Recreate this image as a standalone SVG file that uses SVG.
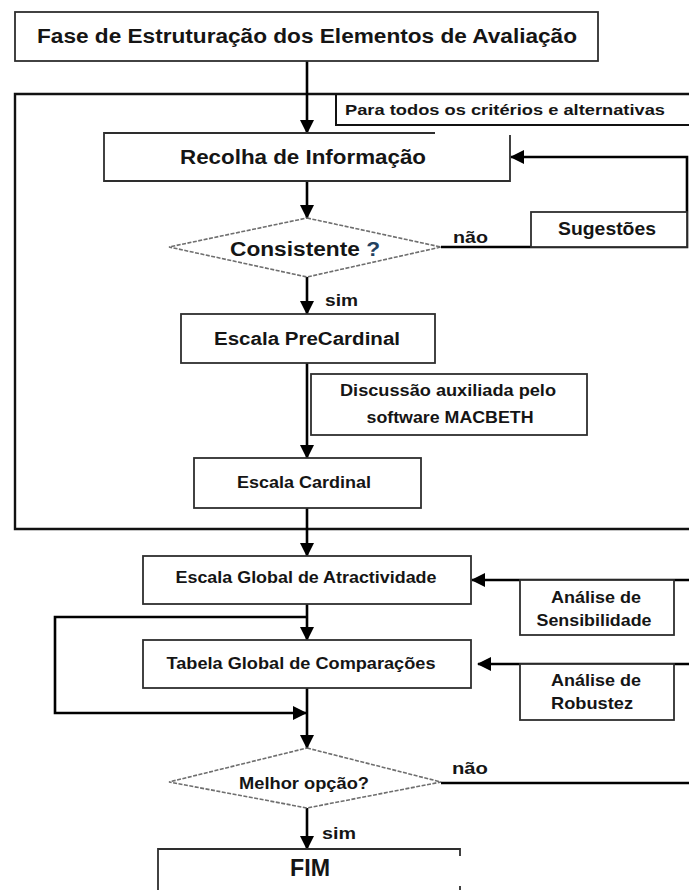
<svg xmlns="http://www.w3.org/2000/svg" width="689" height="890" viewBox="0 0 689 890">
  <defs>
    <marker id="arrow" markerUnits="userSpaceOnUse" markerWidth="14" markerHeight="15" refX="13" refY="7" orient="auto">
      <path d="M0,0 L14,7 L0,14 z" fill="#000"/>
    </marker>
    <style>
      .box { fill: #fff; stroke: #2e2e2e; stroke-width: 1.8; }
      .open { fill: none; stroke: #2e2e2e; stroke-width: 1.8; }
      .dia { fill: #fff; stroke: #6e6e6e; stroke-width: 1.6; stroke-dasharray: 4 1.5; }
      .frame { fill: none; stroke: #111; stroke-width: 2.4; }
      .wire { fill: none; stroke: #000; stroke-width: 2.6; }
      .t { font-family: "Liberation Sans", Arial, sans-serif; font-weight: bold; fill: #151515; text-anchor: middle; }
      .s { text-anchor: start; }
    </style>
  </defs>
  <rect width="689" height="890" fill="#fff"/>

  <!-- scope frame: all criteria and alternatives -->
  <g id="scope">
    <path class="frame" d="M689,94 H15 V529 H689"/>
    <path class="frame" d="M336,94 V125 H689" style="stroke-width:2"/>
    <text class="t s" x="345" y="115" font-size="15.5" textLength="320" lengthAdjust="spacingAndGlyphs">Para todos os critérios e alternativas</text>
  </g>

  <!-- connectors -->
  <g id="connectors">
    <path class="wire" d="M307,61 V133" marker-end="url(#arrow)"/>
    <path class="wire" d="M307,181 V218" marker-end="url(#arrow)"/>
    <path class="wire" d="M307,277 V314" marker-end="url(#arrow)"/>
    <path class="wire" d="M307,363 V458" marker-end="url(#arrow)"/>
    <path class="wire" d="M307,508 V556" marker-end="url(#arrow)"/>
    <path class="wire" d="M307,604 V640" marker-end="url(#arrow)"/>
    <path class="wire" d="M307,617 H55 V713 H306" marker-end="url(#arrow)"/>
    <path class="wire" d="M307,688 V748" marker-end="url(#arrow)"/>
    <path class="wire" d="M307,808 V849" marker-end="url(#arrow)"/>
    <path class="wire" d="M441,247 H687 V157 H511" marker-end="url(#arrow)"/>
    <path class="wire" d="M689,580 H472" marker-end="url(#arrow)"/>
    <path class="wire" d="M689,664 H478" marker-end="url(#arrow)"/>
    <path class="wire" d="M441,783 H689"/>
    <text class="t s" x="453" y="243" font-size="16.5" textLength="35" lengthAdjust="spacingAndGlyphs">não</text>
    <text class="t s" x="325" y="306" font-size="16.5" textLength="33" lengthAdjust="spacingAndGlyphs">sim</text>
    <text class="t s" x="452" y="774" font-size="16.5" textLength="36" lengthAdjust="spacingAndGlyphs">não</text>
    <text class="t s" x="322" y="839" font-size="16.5" textLength="34" lengthAdjust="spacingAndGlyphs">sim</text>
  </g>

  <g id="fase">
    <rect class="box" x="15" y="12" width="583" height="49"/>
    <text class="t" x="307" y="43" font-size="20" textLength="540" lengthAdjust="spacingAndGlyphs">Fase de Estruturação dos Elementos de Avaliação</text>
  </g>

  <g id="recolha">
    <path class="open" d="M435,133 H104 V181 H510 V135" style="fill:#fff"/>
    <text class="t" x="303" y="164" font-size="20" textLength="246" lengthAdjust="spacingAndGlyphs">Recolha de Informação</text>
  </g>

  <g id="sugestoes">
    <rect class="box" x="531" y="212" width="156" height="35"/>
    <text class="t" x="607" y="235" font-size="18" textLength="98" lengthAdjust="spacingAndGlyphs">Sugestões</text>
  </g>

  <g id="consistente">
    <polygon class="dia" points="307,218 441,247 307,277 169,247"/>
    <text class="t" x="305" y="256" font-size="20" textLength="150" lengthAdjust="spacingAndGlyphs">Consistente <tspan fill="#24415f">?</tspan></text>
  </g>

  <g id="precardinal">
    <rect class="box" x="181" y="314" width="254" height="49"/>
    <text class="t" x="307" y="345" font-size="18" textLength="186" lengthAdjust="spacingAndGlyphs">Escala PreCardinal</text>
  </g>

  <g id="macbeth">
    <rect class="box" x="311" y="374" width="276" height="61"/>
    <text class="t" x="448" y="396" font-size="16" textLength="216" lengthAdjust="spacingAndGlyphs">Discussão auxiliada pelo</text>
    <text class="t" x="450" y="423" font-size="16" textLength="167" lengthAdjust="spacingAndGlyphs">software MACBETH</text>
  </g>

  <g id="cardinal">
    <rect class="box" x="194" y="458" width="227" height="50"/>
    <text class="t" x="304" y="488" font-size="16.5" textLength="134" lengthAdjust="spacingAndGlyphs">Escala Cardinal</text>
  </g>

  <g id="global">
    <rect class="box" x="143" y="556" width="328" height="48"/>
    <text class="t" x="306" y="583" font-size="16.5" textLength="261" lengthAdjust="spacingAndGlyphs">Escala Global de Atractividade</text>
  </g>

  <g id="sensibilidade">
    <rect class="box" x="520" y="580" width="154" height="55"/>
    <text class="t" x="596" y="603" font-size="16.5" textLength="90" lengthAdjust="spacingAndGlyphs">Análise de</text>
    <text class="t" x="594" y="626" font-size="16.5" textLength="115" lengthAdjust="spacingAndGlyphs">Sensibilidade</text>
  </g>

  <g id="tabela">
    <rect class="box" x="143" y="640" width="328" height="48"/>
    <text class="t" x="301" y="669" font-size="16.5" textLength="269" lengthAdjust="spacingAndGlyphs">Tabela Global de Comparações</text>
  </g>

  <g id="robustez">
    <rect class="box" x="520" y="664" width="154" height="56"/>
    <text class="t" x="596" y="686" font-size="16.5" textLength="90" lengthAdjust="spacingAndGlyphs">Análise de</text>
    <text class="t" x="592" y="709" font-size="16.5" textLength="82" lengthAdjust="spacingAndGlyphs">Robustez</text>
  </g>

  <g id="melhor">
    <polygon class="dia" points="307,748 441,782 307,808 169,782"/>
    <text class="t" x="304" y="789" font-size="16.5" textLength="130" lengthAdjust="spacingAndGlyphs">Melhor opção?</text>
  </g>

  <g id="fim">
    <path class="open" d="M158,890 V849 H460 V856"/>
    <path class="open" d="M460,886 V890"/>
    <text class="t" x="310" y="876" font-size="23" textLength="40" lengthAdjust="spacingAndGlyphs">FIM</text>
  </g>
</svg>
